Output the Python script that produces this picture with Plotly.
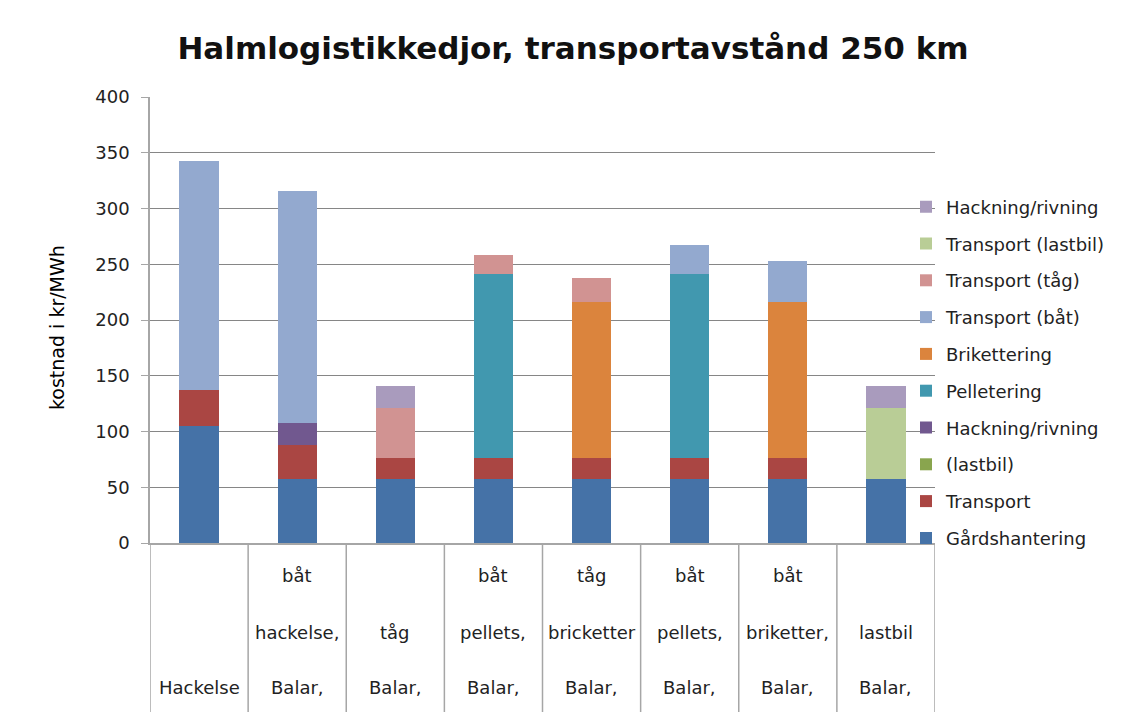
import plotly.graph_objects as go

# ---- data ----
cat_ids = ["c1", "c2", "c3", "c4", "c5", "c6", "c7", "c8"]
label_top = ["", "båt", "", "båt", "tåg", "båt", "båt", ""]
label_mid = ["", "hackelse,", "tåg", "pellets,", "bricketter", "pellets,", "briketter,", "lastbil"]
label_bot = ["Hackelse", "Balar,", "Balar,", "Balar,", "Balar,", "Balar,", "Balar,", "Balar,"]

gardshantering   = [105, 57, 57, 57, 57, 57, 57, 57]
transport        = [32, 31, 19, 19, 19, 19, 19, 0]
lastbil_dark     = [0, 0, 0, 0, 0, 0, 0, 0]
hackning_dark    = [0, 20, 0, 0, 0, 0, 0, 0]
pelletering      = [0, 0, 0, 165, 0, 165, 0, 0]
brikettering     = [0, 0, 0, 0, 140, 0, 140, 0]
transport_bat    = [206, 208, 0, 0, 0, 26, 37, 0]
transport_tag    = [0, 0, 45, 17, 22, 0, 0, 0]
transport_lastb  = [0, 0, 0, 0, 0, 0, 0, 64]
hackning_light   = [0, 0, 20, 0, 0, 0, 0, 20]

series = [
    ("Gårdshantering", gardshantering, "#4572A7"),
    ("Transport", transport, "#AA4643"),
    ("(lastbil)", lastbil_dark, "#89A54E"),
    ("Hackning/rivning", hackning_dark, "#71588F"),
    ("Pelletering", pelletering, "#4198AF"),
    ("Brikettering", brikettering, "#DB843D"),
    ("Transport (båt)", transport_bat, "#93A9CF"),
    ("Transport (tåg)", transport_tag, "#D19392"),
    ("Transport (lastbil)", transport_lastb, "#B9CD96"),
    ("Hackning/rivning", hackning_light, "#A99BBD"),
]

FONT = "DejaVu Sans"

fig = go.Figure()
for i, (name, vals, col) in enumerate(series):
    fig.add_trace(go.Bar(
        x=list(range(len(cat_ids))), y=vals, name=name,
        marker=dict(color=col, line=dict(width=0)),
        legendgroup=f"g{i}", legendrank=100 - i, width=0.4,
    ))

# layout geometry (page pixels); the page body has an 8px margin
OFF = 8
W, H = 1132, 724
FW, FH = W - OFF, H - OFF
L, R, T, B = 150, 935, 97, 543
ph = B - T
pw = R - L

def py(pix):
    return (B - pix) / ph

def px(pix):
    return (pix - L) / pw

fig.update_layout(
    width=FW, height=FH,
    margin=dict(l=L - OFF, r=W - R, t=T - OFF, b=H - B, pad=0),
    barmode="stack",
    paper_bgcolor="white", plot_bgcolor="white",
    font=dict(family=FONT, size=17, color="#222"),
    title=dict(text="<b>Halmlogistikkedjor, transportavstånd 250 km</b>",
               x=(573 - OFF) / FW, xanchor="center", y=1 - (48 - OFF) / FH, yanchor="middle",
               font=dict(family=FONT, size=31, color="#111")),
    legend=dict(x=px(906), xanchor="left", y=py(188.5), yanchor="top",
                tracegroupgap=10.4,
                font=dict(family=FONT, size=18, color="#222"),
                bgcolor="rgba(0,0,0,0)"),
    showlegend=True,
    bargap=0.6,
)
fig.update_yaxes(range=[0, 400], dtick=50, showgrid=True, gridcolor="#868686", gridwidth=1,
                 showline=True, linecolor="#a6a6a6", linewidth=1.5,
                 ticks="outside", ticklen=7, tickcolor="#a6a6a6",
                 ticklabelstandoff=8,
                 tickfont=dict(family=FONT, size=18, color="#222"),
                 zeroline=False)
fig.update_xaxes(range=[-0.5, len(cat_ids) - 0.5], showticklabels=False, showgrid=False,
                 showline=True, linecolor="#a6a6a6", linewidth=1.5, zeroline=False)

# y-axis title
fig.add_annotation(x=px(57), xref="paper", y=py(328), yref="paper",
                   text="kostnad i kr/MWh", textangle=-90, showarrow=False,
                   xanchor="center", yanchor="middle",
                   font=dict(family=FONT, size=19, color="#000"))

# separator lines in the category label area
for i in range(len(cat_ids) + 1):
    fig.add_shape(type="line", xref="x", yref="paper", x0=i - 0.5, x1=i - 0.5,
                  y0=0, y1=py(712), line=dict(color="#a6a6a6", width=1.5))

for i in range(len(cat_ids)):
    for txt, pix in ((label_top[i], 575), (label_mid[i], 632), (label_bot[i], 687)):
        if txt:
            fig.add_annotation(x=i, xref="x", y=py(pix), yref="paper", text=txt,
                               showarrow=False, xanchor="center", yanchor="middle",
                               font=dict(family=FONT, size=18, color="#222"))

fig.write_html("out.html")
